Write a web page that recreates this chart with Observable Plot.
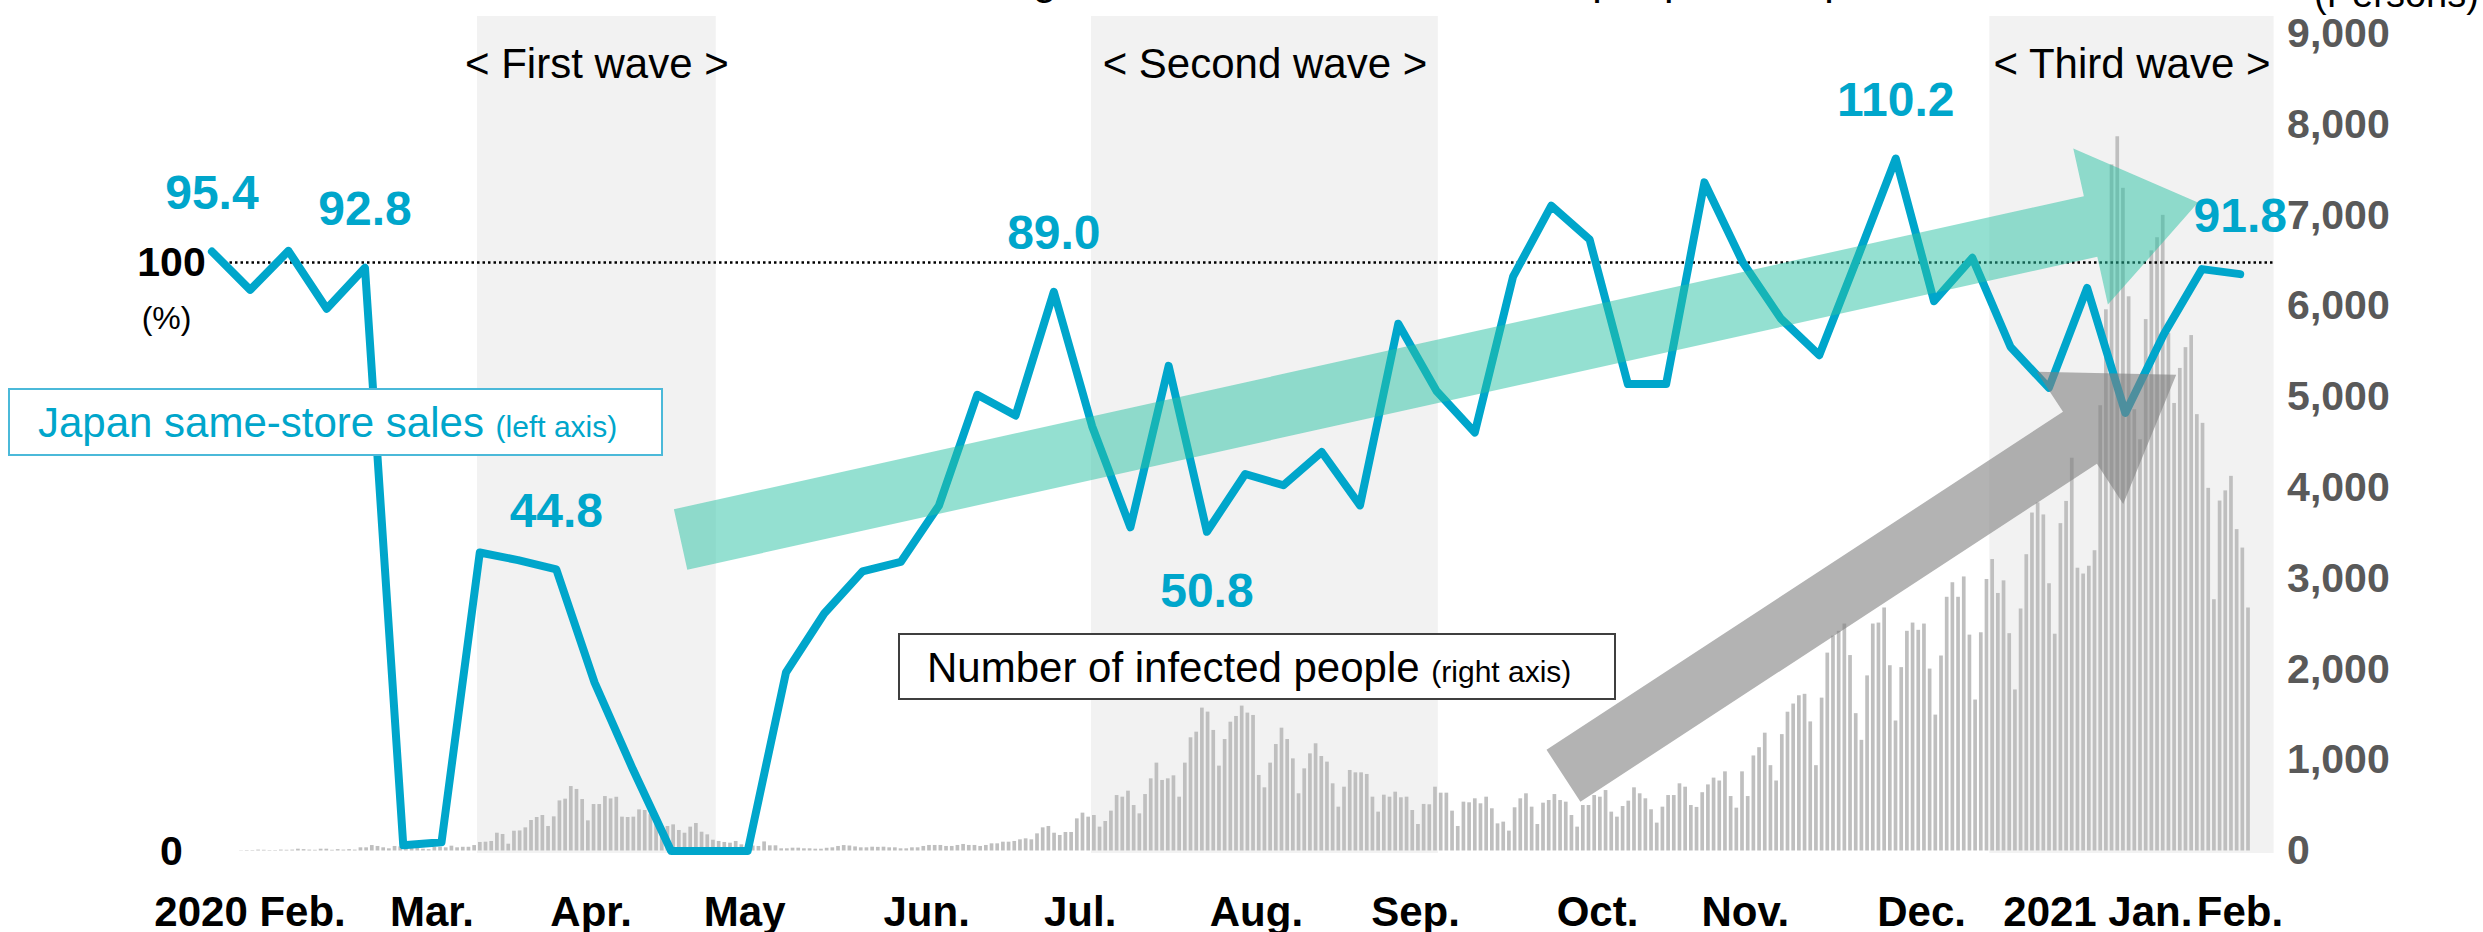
<!DOCTYPE html>
<html>
<head>
<meta charset="utf-8">
<script src="https://cdn.jsdelivr.net/npm/d3@7"></script>
<script src="https://cdn.jsdelivr.net/npm/@observablehq/plot@0.6"></script>
<style>
  html, body { margin: 0; padding: 0; background: #fff; }
  #chart { position: relative; width: 2483px; height: 932px; overflow: hidden;
           font-family: "Liberation Sans", Arial, sans-serif; color: #000; }
  #chart svg { position: absolute; left: 0; top: 0; }
  .key { position: absolute; box-sizing: border-box; background: #fff; border: 2px solid;
         white-space: nowrap; font-size: 42px; line-height: 66px; }
  .key small { font-size: 30px; }
  #key-sales { left: 8px; top: 388px; width: 655px; height: 68px; padding-left: 28px;
               border-color: #4BB9D9; color: #00A6CB; }
  #key-cases { left: 898px; top: 633px; width: 718px; height: 67px; padding-left: 27px;
               border-color: #3F3F3F; color: #000; }
</style>
</head>
<body>
<div id="chart">
  <div class="key" id="key-sales">Japan same-store sales <small>(left axis)</small></div>
  <div class="key" id="key-cases">Number of infected people <small>(right axis)</small></div>
</div>
<script>
// ---- Same-store sales, weekly, % (week 1 = first week of February 2020) ----
const salesWeekly = [
  95.4, 89.3, 95.5, 86.3, 92.8, 0.9, 1.4, 47.5, 46.3, 44.8,
  26.8, 13.0, 0, 0, 0, 28.4, 37.8, 44.5, 46.0, 55.0,
  72.6, 69.3, 89.0, 67.6, 51.5, 77.2, 50.8, 60.0, 58.2, 63.5,
  55.0, 83.9, 73.2, 66.6, 91.4, 102.7, 97.3, 74.3, 74.3, 106.4,
  93.7, 84.7, 78.9, 94.4, 110.2, 87.5, 94.4, 80.2, 73.7, 89.6,
  69.7, 82.2, 92.6, 91.8
];
// weeks whose value is written on the chart, and the ones written under the line
const labelledWeeks = [1, 5, 10, 23, 27, 45, 54];
const labelsBelow = [27];

// ---- New infections in Japan, daily (persons) ----
const cases2020Feb = [3, 5, 5, 10, 8, 5, 5, 10, 8, 10, 20, 15, 10, 8, 20, 20, 8]; // from Feb 13
const cases2020Mar = [15, 10, 15, 10, 35, 35, 60, 50, 35, 24, 50, 45, 40, 55, 35, 20, 15, 41, 41, 35,
  53, 35, 41, 41, 60, 94, 97, 105, 196, 182, 75];
const cases2020Apr = [218, 221, 255, 336, 369, 391, 270, 376, 552, 571, 710, 678, 567, 332, 512, 512,
  600, 574, 592, 373, 369, 373, 453, 446, 400, 320, 190, 270, 288, 226];
const cases2020May = [196, 263, 303, 207, 178, 119, 105, 94, 86, 105, 68, 60, 55, 50, 100, 57, 57, 24,
  24, 31, 31, 24, 24, 20, 20, 30, 35, 50, 60, 55, 45];
const cases2020Jun = [35, 35, 42, 40, 42, 35, 35, 24, 24, 35, 35, 50, 61, 61, 61, 50, 50, 61, 72, 61,
  61, 50, 61, 79, 79, 97, 97, 105, 123, 134];
const cases2020Jul = [123, 189, 255, 270, 196, 171, 204, 204, 354, 417, 373, 391, 263, 325, 439, 611,
  593, 659, 501, 409, 622, 795, 968, 777, 795, 828, 593, 968, 1247, 1309, 1574];
const cases2020Aug = [1530, 1328, 935, 1228, 1419, 1482, 1596, 1519, 1493, 832, 696, 968, 1173, 1353,
  1228, 1015, 630, 905, 1070, 1181, 1041, 979, 740, 483, 703, 887, 861, 861, 843, 593, 428];
const cases2020Sep = [615, 593, 648, 586, 593, 446, 292, 513, 509, 703, 637, 637, 439, 270, 538, 531,
  575, 520, 593, 465, 299, 318, 219, 476, 575, 630, 483, 292, 527, 556];
const cases2020Oct = [622, 556, 538, 391, 263, 501, 501, 611, 593, 666, 428, 373, 490, 549, 696, 630,
  575, 454, 307, 483, 611, 611, 740, 703, 501, 480, 642, 728, 803, 771, 872];
const cases2020Nov = [600, 472, 872, 600, 1047, 1138, 1298, 940, 771, 1282, 1529, 1619, 1710, 1726,
  1422, 940, 1684, 2180, 2367, 2420, 2500, 2153, 1513, 1219, 1929, 2500, 2511, 2677, 2041, 1432];
const cases2020Dec = [2020, 2420, 2511, 2431, 2500, 2004, 1497, 2148, 2795, 2955, 2795, 3019, 2378,
  1663, 2404, 2991, 3211, 2837, 2976, 2394, 1774, 2666, 3264, 3723, 3835, 3702, 2944, 2388, 3606,
  3851, 4327];
const cases2021Jan = [3115, 3051, 3137, 3308, 4905, 5962, 7558, 7868, 7300, 6105, 4861, 4530, 5854,
  6611, 6756, 7002, 5700, 4930, 5316, 5545, 5678, 4807, 4711, 3995, 2768, 3855, 3967, 4127, 3540,
  3337, 2677];
const caseSeriesStarts = ["2020-02-13", "2020-03-01", "2020-04-01", "2020-05-01", "2020-06-01",
  "2020-07-01", "2020-08-01", "2020-09-01", "2020-10-01", "2020-11-01", "2020-12-01", "2021-01-01"];
const caseSeries = [cases2020Feb, cases2020Mar, cases2020Apr, cases2020May, cases2020Jun, cases2020Jul,
  cases2020Aug, cases2020Sep, cases2020Oct, cases2020Nov, cases2020Dec, cases2021Jan];

// ---- Infection waves ----
const waveNames = ["< First wave >", "< Second wave >", "< Third wave >"];
const waveStarts = ["2020-03-26", "2020-07-12", "2020-12-17"];
const waveEnds = ["2020-05-07", "2020-09-11", "2021-02-05"];

// ---- Axis labels ----
const monthLabels = ["2020 Feb.", "Mar.", "Apr.", "May", "Jun.", "Jul.", "Aug.", "Sep.", "Oct.",
  "Nov.", "Dec.", "2021 Jan.", "Feb."];
const monthLabelDates = ["2020-02-15", "2020-03-18", "2020-04-15", "2020-05-12", "2020-06-13",
  "2020-07-10", "2020-08-10", "2020-09-07", "2020-10-09", "2020-11-04", "2020-12-05",
  "2021-01-05", "2021-01-30"];
const casesTicks = [0, 1000, 2000, 3000, 4000, 5000, 6000, 7000, 8000, 9000];
const salesTicks = [0, 100];

// ---- Trend arrows (week, sales %) ----
const arrowTails = [[13.26, 49.5], [36.33, 11.9]];
const arrowTips = [[52.91, 103.1], [52.34, 75.7]];

// ---------------------------------------------------------------
const W = 2483, H = 932;
const FONT = "'Liberation Sans', Arial, sans-serif";
const BLUE = "#00A6CB";
const day = (s) => new Date(s + "T00:00:00Z");

const caseRows = caseSeries.flatMap((values, m) =>
  values.map((v, i) => ({date: d3.utcDay.offset(day(caseSeriesStarts[m]), i), cases: v})));
const waves = waveNames.map((name, i) => ({name, start: day(waveStarts[i]), end: day(waveEnds[i])}));
const months = monthLabels.map((label, i) => ({label, date: day(monthLabelDates[i])}));
const salesRows = salesWeekly.map((sales, i) => ({week: i + 1, sales}));
const labelRows = salesRows.filter(d => labelledWeeks.includes(d.week));
const labelsAbove = labelRows.filter(d => !labelsBelow.includes(d.week));
const labelsUnder = labelRows.filter(d => labelsBelow.includes(d.week));

const layerStyle = {background: "transparent", fontFamily: FONT, color: "#000", overflow: "visible"};
const chart = document.getElementById("chart");
const firstKey = document.getElementById("key-sales");

// Layer 1: wave shading, daily infections, right axis, month labels
const casesLayer = Plot.plot({
  width: W, height: H,
  marginLeft: 198.4, marginRight: W - 2273.6, marginTop: 16, marginBottom: H - 853,
  style: layerStyle,
  x: {type: "utc", domain: [day("2020-02-06"), day("2021-02-05")], axis: null},
  y: {domain: [0, 9000], range: [850.5, 33.5], axis: null},
  marks: [
    Plot.rect(waves, {x1: "start", x2: "end", fill: "#F2F2F2"}),
    Plot.rectY(caseRows, {x: "date", y: "cases", interval: "day", fill: "#BFBFBF",
      insetLeft: 1, insetRight: 1}),
    Plot.text(waves, {x: d => new Date((+d.start + +d.end) / 2), text: "name", frameAnchor: "top",
      lineAnchor: "top", dy: 32, fontSize: 42, fill: "#000"}),
    Plot.text(casesTicks, {y: d => d, text: d => d3.format(",")(d), frameAnchor: "right",
      textAnchor: "start", dx: 13, fontSize: 41, fontWeight: "bold", fill: "#595959"}),
    Plot.text(months, {x: "date", text: "label", frameAnchor: "bottom", lineAnchor: "top", dy: 43,
      fontSize: 42, fontWeight: "bold", fill: "#000"}),
    Plot.text(["(Persons)"], {text: d => d, frameAnchor: "top-right", textAnchor: "start",
      lineAnchor: "top", dx: 40, dy: -36, fontSize: 38, fill: "#000"}),
    Plot.text(["Same-store sales recovering and the number of infected people in Japan"], {
      text: d => d, frameAnchor: "top-left", textAnchor: "start", lineAnchor: "top",
      dx: 310.6, dy: -52.8, fontSize: 43, fill: "#000"})
  ]
});
chart.insertBefore(casesLayer, firstKey);

// Layer 2: left (sales) axis with the 100% reference line
const salesAxisLayer = Plot.plot({
  width: W, height: H,
  marginLeft: 224, marginRight: W - 2273, marginTop: 262, marginBottom: H - 851.5,
  style: layerStyle,
  y: {domain: [0, 100], axis: null},
  marks: [
    Plot.ruleY([100], {stroke: "#000", strokeWidth: 2.5, strokeDasharray: "2.5 3"}),
    Plot.text(salesTicks, {y: d => d, text: d => String(d), frameAnchor: "left", textAnchor: "middle",
      dx: -53, fontSize: 41, fontWeight: "bold", fill: "#000"}),
    Plot.text([100], {y: d => d, text: () => "(%)", frameAnchor: "left", textAnchor: "middle",
      dx: -58, dy: 56, fontSize: 32, fill: "#000"})
  ]
});
chart.insertBefore(salesAxisLayer, firstKey);

// Block arrows drawn in pixel space between two data points
function trendArrows(index, scales) {
  const sx = typeof scales.x === "function" ? scales.x : scales.scales.x.apply;
  const sy = typeof scales.y === "function" ? scales.y : scales.scales.y.apply;
  const looks = [
    {fill: "#29C1A3", opacity: 0.5, shaft: 62, head: 160, headLength: 110},
    {fill: "#808080", opacity: 0.6, shaft: 62, head: 158, headLength: 115}
  ];
  const g = d3.create("svg:g");
  arrowTails.forEach((tail, i) => {
    const tip = arrowTips[i], a = looks[i];
    const x0 = sx(tail[0]), y0 = sy(tail[1]), x1 = sx(tip[0]), y1 = sy(tip[1]);
    const len = Math.hypot(x1 - x0, y1 - y0);
    const ux = (x1 - x0) / len, uy = (y1 - y0) / len, nx = -uy, ny = ux;
    const bx = x1 - ux * a.headLength, by = y1 - uy * a.headLength;
    const s = a.shaft / 2, h = a.head / 2;
    const pts = [
      [x0 + nx * s, y0 + ny * s], [bx + nx * s, by + ny * s], [bx + nx * h, by + ny * h], [x1, y1],
      [bx - nx * h, by - ny * h], [bx - nx * s, by - ny * s], [x0 - nx * s, y0 - ny * s]
    ];
    g.append("path")
      .attr("d", "M" + pts.map(p => p[0].toFixed(1) + "," + p[1].toFixed(1)).join("L") + "Z")
      .attr("fill", a.fill).attr("fill-opacity", a.opacity);
  });
  return g.node();
}

// Layer 3: weekly same-store sales line, value labels, trend arrows
const valueLabel = {x: "week", y: "sales", text: d => d.sales.toFixed(1), fill: BLUE,
  fontSize: 48, fontWeight: "bold"};
const salesLayer = Plot.plot({
  width: W, height: H,
  marginLeft: 211.4, marginRight: W - 2239.7, marginTop: 33.6, marginBottom: H - 850.5,
  style: layerStyle,
  x: {domain: [1, 54], axis: null},
  y: {domain: [0, 130], axis: null},
  marks: [
    Plot.line(salesRows, {x: "week", y: "sales", stroke: BLUE, strokeWidth: 8,
      strokeLinejoin: "round", strokeLinecap: "round"}),
    Plot.text(labelsAbove, {...valueLabel, dy: -58}),
    Plot.text(labelsUnder, {...valueLabel, dy: 60}),
    trendArrows
  ]
});
chart.insertBefore(salesLayer, firstKey);
</script>
</body>
</html>
